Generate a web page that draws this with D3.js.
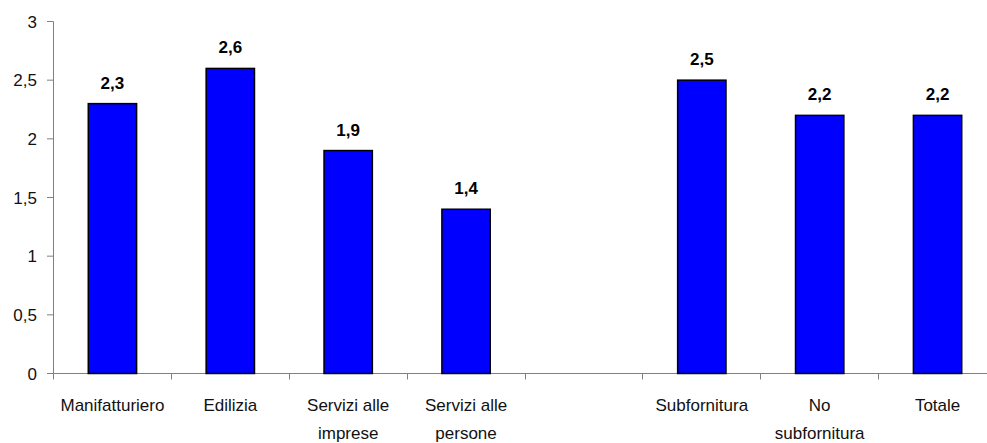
<!DOCTYPE html>
<html>
<head>
<meta charset="utf-8">
<script src="https://cdn.jsdelivr.net/npm/d3@7"></script>
<style>
  body { margin: 0; background: #fff; }
  svg { display: block; font-family: "Liberation Sans", Arial, sans-serif; }
  .lbl { font-size: 17px; fill: #111; }
  .val { font-size: 17px; font-weight: bold; fill: #000; }
</style>
</head>
<body>
<div id="chart"></div>
<script>
// categories ("" is the empty gap slot)
const categories = ["Manifatturiero", "Edilizia", "Servizi alle imprese", "Servizi alle persone", "", "Subfornitura", "No subfornitura", "Totale"];
const labelLines = [["Manifatturiero"], ["Edilizia"], ["Servizi alle", "imprese"], ["Servizi alle", "persone"], [], ["Subfornitura"], ["No", "subfornitura"], ["Totale"]];
const values = [2.3, 2.6, 1.9, 1.4, null, 2.5, 2.2, 2.2];
const yTicks = [0, 0.5, 1, 1.5, 2, 2.5, 3];

const width = 987, height = 443;
const fmt = (v) => String(v).replace(".", ",");

const svg = d3.select("#chart").append("svg")
  .attr("width", width)
  .attr("height", height);

const x = d3.scaleBand()
  .domain(categories.map((d, i) => i))
  .range([53.5, 996.5])
  .paddingInner(0.59)
  .paddingOuter(0.295);

const y = d3.scaleLinear().domain([0, 3]).range([373.5, 21.5]);

const axisColor = "#808080";

// y axis
svg.append("line")
  .attr("x1", 53.5).attr("x2", 53.5)
  .attr("y1", y(3)).attr("y2", y(0))
  .attr("stroke", axisColor);
svg.selectAll(".ytick").data(yTicks).enter().append("line")
  .attr("x1", 47).attr("x2", 53.5)
  .attr("y1", (d) => y(d)).attr("y2", (d) => y(d))
  .attr("stroke", axisColor);
svg.selectAll(".ylab").data(yTicks).enter().append("text")
  .attr("class", "lbl")
  .attr("x", 37).attr("y", (d) => y(d) + 6)
  .attr("text-anchor", "end")
  .text(fmt);

// x axis
svg.append("line")
  .attr("x1", 53.5).attr("x2", width)
  .attr("y1", y(0)).attr("y2", y(0))
  .attr("stroke", axisColor);
const step = x.step();
svg.selectAll(".xtick").data(d3.range(categories.length + 1)).enter().append("line")
  .attr("x1", (i) => Math.round(53 + i * step) + 0.5)
  .attr("x2", (i) => Math.round(53 + i * step) + 0.5)
  .attr("y1", y(0)).attr("y2", y(0) + 6)
  .attr("stroke", axisColor);

// bars
const data = values.map((v, i) => ({ i, v })).filter((d) => d.v !== null);
svg.selectAll(".bar").data(data).enter().append("rect")
  .attr("x", (d) => x(d.i))
  .attr("y", (d) => y(d.v))
  .attr("width", x.bandwidth())
  .attr("height", (d) => y(0) - y(d.v))
  .attr("fill", "#0000ff")
  .attr("stroke", "#000")
  .attr("stroke-width", 1.5);

svg.selectAll(".val").data(data).enter().append("text")
  .attr("class", "val")
  .attr("x", (d) => x(d.i) + x.bandwidth() / 2)
  .attr("y", (d) => y(d.v) - 15)
  .attr("text-anchor", "middle")
  .text((d) => fmt(d.v));

// category labels
labelLines.forEach((lines, i) => {
  const t = svg.append("text")
    .attr("class", "lbl")
    .attr("text-anchor", "middle")
    .attr("x", x(i) + x.bandwidth() / 2)
    .attr("y", 411);
  lines.forEach((ln, k) => {
    t.append("tspan")
      .attr("x", x(i) + x.bandwidth() / 2)
      .attr("dy", k === 0 ? 0 : 28)
      .text(ln);
  });
});
</script>
</body>
</html>
